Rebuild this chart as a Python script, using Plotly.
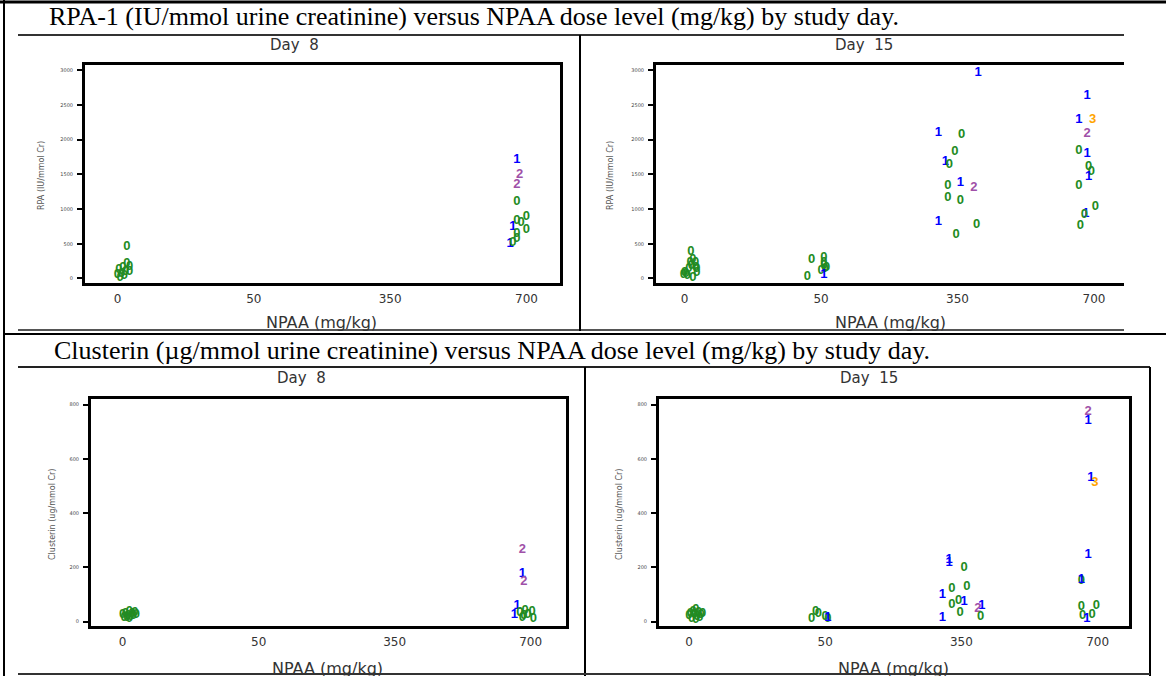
import plotly.graph_objects as go

W, H = 1166, 676

DOSE_LABELS = ["0", "50", "350", "700"]
DOSES = [0, 50, 350, 700]
GRADE_COLORS = {"0": "#228B22", "1": "#0000FF", "2": "#A050A8", "3": "#FFA500"}

TITLE_RPA = "RPA-1 (IU/mmol urine creatinine) versus NPAA dose level (mg/kg) by study day."
TITLE_CLU = "Clusterin (\u00b5g/mmol urine creatinine) versus NPAA dose level (mg/kg) by study day."

# ---- RPA-1, Day 8 ----
rpa_d8_dose = [0] * 11 + [700] * 13
rpa_d8_shift = [0.07, 0.07, 0.09, 0.04, 0.01, 0.06, 0.09, 0.03, 0.00, 0.05, 0.02,
                -0.07, -0.05, -0.07, -0.07, -0.07, -0.04, 0.00, 0.00, -0.10, -0.07, -0.07, -0.12, -0.10]
rpa_d8_value = [451, 210, 170, 150, 120, 100, 90, 75, 60, 40, 15,
                1712, 1500, 1351, 1110, 836, 797, 894, 707, 740, 649, 577, 500, 509]
rpa_d8_grade = ["0"] * 11 + ["1", "2", "2", "0", "0", "0", "0", "0", "1", "0", "0", "1", "0"]

# ---- RPA-1, Day 15 ----
rpa_d15_dose = [0] * 14 + [50] * 9 + [350] * 14 + [700] * 14
rpa_d15_shift = [0.045, 0.06, 0.08, 0.04, 0.05, 0.08, 0.03, 0.09, 0.09, 0.00, 0.01, -0.01, 0.02, 0.06,
                 -0.07, -0.10, 0.02, 0.02, 0.02, 0.04, 0.03, 0.00, 0.02,
                 0.15, -0.14, 0.03, -0.02, -0.09, -0.06, -0.07, 0.02, 0.12, -0.07, 0.02, -0.14, 0.14, -0.01,
                 -0.05, -0.11, -0.01, -0.05, -0.11, -0.05, -0.04, -0.02, -0.04, -0.11, 0.01, -0.06, -0.07, -0.10]
rpa_d15_value = [388, 268, 230, 230, 181, 158, 134, 134, 86, 86, 62, 47, 37, 14,
                 268, 23, 302, 230, 181, 160, 134, 109, 47,
                 2962, 2099, 2075, 1826, 1682, 1644, 1342, 1380, 1308, 1165, 1116, 820, 781, 623,
                 2626, 2281, 2281, 2089, 1845, 1798, 1610, 1533, 1467, 1342, 1030, 939, 925, 756]
rpa_d15_grade = (["0"] * 14
                 + ["0"] * 8 + ["1"]
                 + ["1", "1", "0", "0", "1", "0", "0", "1", "2", "0", "0", "1", "0", "0"]
                 + ["1", "1", "3", "2", "0", "1", "0", "0", "1", "0", "0", "1", "0", "0"])

# ---- Clusterin, Day 8 ----
clu_d8_dose = [0] * 12 + [700] * 12
clu_d8_shift = [0.05, 0.09, 0.02, 0.07, 0.10, 0.00, 0.04, 0.08, 0.06, 0.01, 0.03, 0.05,
                -0.06, -0.06, -0.05, -0.10, -0.12, -0.08, -0.05, -0.02, 0.01, 0.02, -0.06, -0.04]
clu_d8_value = [35, 32, 30, 28, 26, 24, 22, 20, 18, 16, 14, 12,
                265, 176, 146, 57, 27, 33, 21, 27, 37, 12, 15, 39]
clu_d8_grade = ["0"] * 12 + ["2", "1", "2", "1", "1", "0", "0", "0", "0", "0", "0", "0"]

# ---- Clusterin, Day 15 ----
clu_d15_dose = [0] * 12 + [50] * 6 + [350] * 14 + [700] * 12
clu_d15_shift = [0.05, 0.03, 0.07, 0.01, 0.09, 0.04, 0.00, 0.06, 0.08, 0.02, 0.05, 0.10,
                 -0.07, -0.10, 0.00, -0.05, 0.02, 0.02,
                 -0.09, -0.09, 0.02, -0.07, 0.04, -0.14, -0.02, 0.02, -0.07, -0.01, -0.14, 0.15, 0.12, 0.14,
                 -0.07, -0.07, -0.05, -0.02, -0.07, -0.12, -0.12, -0.12, -0.01, -0.11, -0.04, -0.08]
clu_d15_value = [45, 38, 33, 30, 27, 24, 20, 17, 14, 11, 8, 28,
                 37, 10, 18, 29, 10, 15,
                 229, 217, 200, 123, 128, 100, 76, 73, 64, 34, 15, 59, 47, 18,
                 773, 740, 532, 514, 248, 151, 156, 55, 59, 21, 27, 10]
clu_d15_grade = (["0"] * 12
                 + ["0", "0", "0", "0", "0", "1"]
                 + ["1", "1", "0", "0", "0", "1", "0", "1", "0", "0", "1", "1", "2", "0"]
                 + ["2", "1", "1", "3", "1", "0", "1", "0", "0", "0", "0", "1"])

RPA_TICKS = [0, 500, 1000, 1500, 2000, 2500, 3000]
CLU_TICKS = [0, 200, 400, 600, 800]


def px(x):
    return x / W


def py(y):
    return 1 - y / H


panels = [
    dict(day="Day\u00a0 8", ytitle="RPA (IU/mmol Cr)", dose=rpa_d8_dose, shift=rpa_d8_shift,
         value=rpa_d8_value, grade=rpa_d8_grade, box=(85, 560, 65, 283), xr=(-0.238, 3.246),
         yr=(-65, 3075), ticks=RPA_TICKS, right=True, daypos=(294, 45), xtpos=(321, 323), ytpos=(41, 176)),
    dict(day="Day\u00a0 15", ytitle="RPA (IU/mmol Cr)", dose=rpa_d15_dose, shift=rpa_d15_shift,
         value=rpa_d15_value, grade=rpa_d15_grade, box=(656, 1124, 65, 283), xr=(-0.21, 3.22),
         yr=(-65, 3075), ticks=RPA_TICKS, right=False, daypos=(864, 45), xtpos=(890, 323), ytpos=(610, 176)),
    dict(day="Day\u00a0 8", ytitle="Clusterin (ug/mmol Cr)", dose=clu_d8_dose, shift=clu_d8_shift,
         value=clu_d8_value, grade=clu_d8_grade, box=(91, 566, 399, 626), xr=(-0.233, 3.26),
         yr=(-16, 821), ticks=CLU_TICKS, right=True, daypos=(301, 378), xtpos=(327, 668), ytpos=(52, 515)),
    dict(day="Day\u00a0 15", ytitle="Clusterin (ug/mmol Cr)", dose=clu_d15_dose, shift=clu_d15_shift,
         value=clu_d15_value, grade=clu_d15_grade, box=(659, 1129, 399, 626), xr=(-0.22, 3.23),
         yr=(-16, 821), ticks=CLU_TICKS, right=True, daypos=(869, 378), xtpos=(893, 668), ytpos=(619, 515)),
]

fig = go.Figure()
annotations = []
layout_axes = {}
SANS = "DejaVu Sans"


def note(text, x, y, size, color, angle=0, family=SANS, xanchor="center"):
    annotations.append(dict(text=text, x=px(x), y=py(y), xref="paper", yref="paper",
                            xanchor=xanchor, yanchor="middle", showarrow=False,
                            textangle=angle, font=dict(family=family, size=size, color=color)))


for i, p in enumerate(panels, start=1):
    sx = "" if i == 1 else str(i)
    xpos = [DOSES.index(d) + s for d, s in zip(p["dose"], p["shift"])]
    fig.add_trace(go.Scatter(
        x=xpos, y=p["value"], mode="text", text=p["grade"],
        textposition="middle center",
        textfont=dict(family="Liberation Sans", size=13, weight="bold",
                      color=[GRADE_COLORS[g] for g in p["grade"]]),
        xaxis="x" + sx, yaxis="y" + sx, hoverinfo="skip", cliponaxis=False, showlegend=False,
    ))
    x0, x1, y0, y1 = p["box"]
    layout_axes["xaxis" + sx] = dict(
        domain=[px(x0), px(x1)], anchor="y" + sx, range=list(p["xr"]),
        tickmode="array", tickvals=[0, 1, 2, 3], ticktext=DOSE_LABELS,
        ticks="", showgrid=False, zeroline=False, showline=True, linecolor="black",
        linewidth=3, mirror=True, tickfont=dict(family=SANS, size=12, color="#333333"),
        ticklabelstandoff=3, fixedrange=True,
    )
    layout_axes["yaxis" + sx] = dict(
        domain=[py(y1), py(y0)], anchor="x" + sx, range=list(p["yr"]),
        tickmode="array", tickvals=p["ticks"], ticktext=[str(t) for t in p["ticks"]],
        ticks="outside", ticklen=5, tickwidth=1.5, tickcolor="black",
        showgrid=False, zeroline=False, showline=True, linecolor="black", linewidth=3,
        mirror=p["right"], tickfont=dict(family=SANS, size=5, color="#444444"),
        ticklabelstandoff=3, fixedrange=True,
    )
    note(p["day"], p["daypos"][0], p["daypos"][1], 15, "#333333")
    note("NPAA (mg/kg)", p["xtpos"][0], p["xtpos"][1], 16, "#333333")
    note(p["ytitle"], p["ytpos"][0], p["ytpos"][1], 8, "#555555", angle=-90)

# Row captions
note(TITLE_RPA, 47, 17, 26, "black", family="Liberation Serif", xanchor="left")
note(TITLE_CLU, 52, 350, 26, "black", family="Liberation Serif", xanchor="left")

# Table rules and chart frames
shapes = []


def hline(y, xa, xb, color="black", width=2):
    shapes.append(dict(type="line", xref="paper", yref="paper", x0=px(xa), x1=px(xb),
                       y0=py(y), y1=py(y), line=dict(color=color, width=width)))


def vline(x, ya, yb, color="black", width=2):
    shapes.append(dict(type="line", xref="paper", yref="paper", x0=px(x), x1=px(x),
                       y0=py(ya), y1=py(yb), line=dict(color=color, width=width)))


hline(2, 0, W, width=3)
vline(4, 0, H)
hline(334, 4, W)
hline(35, 18, 1124, color="#333333")
hline(330, 18, 1124, color="#555555")
vline(580, 35, 331)
hline(367, 18, 1150, color="#222222")
vline(585, 367, H)
vline(1150, 367, H)
hline(674, 18, 1150, color="#333333")

fig.update_layout(
    width=W, height=H, margin=dict(l=0, r=0, t=0, b=0),
    paper_bgcolor="white", plot_bgcolor="white", showlegend=False,
    annotations=annotations, shapes=shapes, **layout_axes,
)

fig.write_html("out.html")
